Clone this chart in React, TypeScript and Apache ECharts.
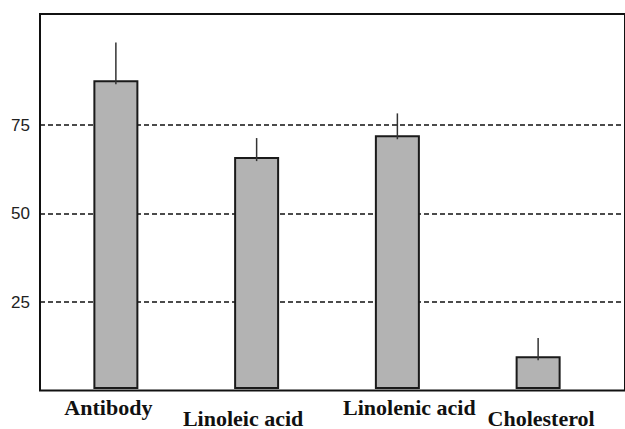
import React, { useEffect, useRef } from "react";
import * as echarts from "echarts";

const categories = ["Antibody", "Linoleic acid", "Linolenic acid", "Cholesterol"];
const values = [87.6, 65.8, 72.0, 9.3];
const errors = [10.7, 5.4, 6.2, 5.2];
const yTicks = [25, 50, 75];

const labelStyleKeys = ["a", "b", "c", "d"];

export default function App() {
  const ref = useRef<HTMLDivElement>(null);
  useEffect(() => {
    if (!ref.current) return;
    const chart = echarts.init(ref.current, undefined, { renderer: "svg" });
    const serif = "'Liberation Serif', 'Times New Roman', serif";
    const baseLabel = { fontFamily: serif, fontWeight: "bold" as const, fontSize: 22, color: "#111" };
    const option: any = {
      animation: false,
      backgroundColor: "#fff",
      grid: [
        { left: 40, right: -5, top: 14, bottom: 38.5, show: true, borderColor: "#111", borderWidth: 2, backgroundColor: "transparent" },
        { left: 40, right: -5, top: 36.65, bottom: 38.5 },
        { left: 45.5, width: 563, top: 14, bottom: 38.5 },
      ],
      xAxis: [
        { gridIndex: 0, type: "category", data: categories, show: false },
        { gridIndex: 1, type: "category", data: categories, show: false },
        {
          gridIndex: 2,
          type: "category",
          data: categories,
          axisLine: { show: false },
          axisTick: { show: false },
          axisLabel: {
            interval: 0,
            margin: 7,
            ...baseLabel,
            formatter: (v: string, i: number) => `{${labelStyleKeys[i]}|${v}}`,
            rich: {
              a: { ...baseLabel, padding: [0, 15, 0, 0] },
              b: { ...baseLabel, padding: [11, 27, 0, 0] },
              c: { ...baseLabel, padding: [0, 0, 0, 24] },
              d: { ...baseLabel, padding: [11, 0, 0, 6] },
            },
          },
        },
      ],
      yAxis: [
        { gridIndex: 0, type: "value", min: 0, max: 106.4, show: false },
        {
          gridIndex: 1,
          type: "value",
          min: 0,
          max: 100,
          interval: 25,
          axisLine: { show: false },
          axisTick: { show: false },
          axisLabel: {
            margin: 10,
            fontFamily: "'Liberation Sans', Arial, sans-serif",
            fontSize: 17,
            color: "#222",
            formatter: (v: number) => (yTicks.includes(v) ? String(v) : ""),
          },
          splitLine: {
            show: true,
            showMinLine: false,
            showMaxLine: false,
            lineStyle: { color: "#111", width: 1.5, type: [5, 3] },
          },
        },
        { gridIndex: 2, type: "value", min: 0, max: 106.4, show: false },
      ],
      series: [
        {
          type: "bar",
          xAxisIndex: 2,
          yAxisIndex: 2,
          data: values,
          barWidth: 45,
          z: 3,
          itemStyle: { color: "#b3b3b3", borderColor: "#1a1a1a", borderWidth: 2 },
        },
        {
          type: "custom",
          xAxisIndex: 2,
          yAxisIndex: 2,
          z: 4,
          data: values.map((v, i) => [i, v, errors[i]]),
          renderItem: (params: any, api: any) => {
            const x = api.value(0);
            const v = api.value(1);
            const e = api.value(2);
            const p1 = api.coord([x, v]);
            const p2 = api.coord([x, v + e]);
            return {
              type: "line",
              shape: { x1: p1[0], y1: p1[1] + 4, x2: p2[0], y2: p2[1] },
              style: { stroke: "#333", lineWidth: 1.5 },
            };
          },
        },
      ],
    };
    chart.setOption(option);
    return () => chart.dispose();
  }, []);
  return <div ref={ref} style={{ position: "fixed", left: 0, top: 0, width: 625, height: 429 }} />;
}
